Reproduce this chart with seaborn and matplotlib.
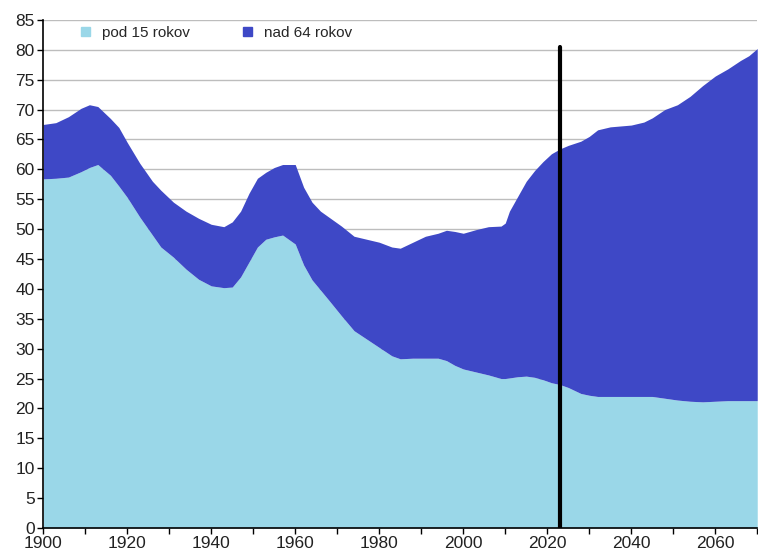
import matplotlib
matplotlib.use("Agg")
import numpy as np
import seaborn as sns
import matplotlib.pyplot as plt
from matplotlib.patches import Patch

# Data
years = [1900, 1903, 1906, 1909, 1911, 1913, 1916, 1918, 1920, 1923, 1926, 1928,
         1931, 1934, 1937, 1940, 1943, 1945, 1947, 1949, 1951, 1953, 1955, 1957,
         1960, 1962, 1964, 1966, 1968, 1971, 1974, 1977, 1980, 1983, 1985, 1988,
         1991, 1994, 1996, 1998, 2000, 2003, 2006, 2009, 2010, 2011, 2013, 2015,
         2017, 2019, 2021, 2023, 2025, 2028, 2030, 2032, 2035, 2040, 2043, 2045,
         2048, 2051, 2054, 2057, 2060, 2063, 2066, 2068, 2070]

pod_15 = [58.4, 58.5, 58.7, 59.6, 60.3, 60.8, 59.0, 57.2, 55.3, 52.0, 49.0, 47.0,
          45.3, 43.3, 41.6, 40.5, 40.2, 40.3, 42.0, 44.5, 47.0, 48.3, 48.7, 49.0,
          47.5, 44.0, 41.5, 39.8, 38.1, 35.5, 33.0, 31.6, 30.2, 28.8, 28.3, 28.4,
          28.4, 28.4, 28.0, 27.2, 26.6, 26.1, 25.6, 25.0, 25.0, 25.1, 25.3, 25.4,
          25.2, 24.8, 24.3, 24.0, 23.5, 22.5, 22.2, 22.0, 22.0, 22.0, 22.0, 22.0,
          21.7, 21.4, 21.2, 21.1, 21.2, 21.3, 21.3, 21.3, 21.3]

# total dependency ratio (top edge of the stack)
total = [67.5, 67.8, 68.8, 70.2, 70.8, 70.5, 68.5, 67.0, 64.5, 61.0, 58.0, 56.5,
         54.5, 53.0, 51.8, 50.8, 50.4, 51.2, 53.0, 56.0, 58.5, 59.5, 60.3, 60.8,
         60.8, 57.0, 54.5, 53.0, 52.0, 50.5, 48.8, 48.3, 47.8, 47.0, 46.8, 47.8,
         48.8, 49.3, 49.8, 49.6, 49.3, 49.9, 50.4, 50.5, 51.0, 53.0, 55.5, 58.0,
         59.8, 61.3, 62.6, 63.4, 64.0, 64.7, 65.5, 66.6, 67.1, 67.4, 67.9, 68.6,
         70.0, 70.8, 72.2, 74.0, 75.6, 76.8, 78.2, 79.0, 80.2]

nad_64 = list(np.array(total) - np.array(pod_15))

labels = ["pod 15 rokov", "nad 64 rokov"]
colors = ["#9AD7E8", "#3E48C6"]

forecast_year = 2023
forecast_top = 80.5

sns.set_theme(style="white")
plt.rcParams["font.family"] = ["Liberation Sans", "DejaVu Sans"]

fig = plt.figure(figsize=(7.58, 5.59), dpi=100)
ax = fig.add_axes([0.057, 0.0555, 0.942, 0.909])

ax.stackplot(years, pod_15, nad_64, colors=colors, linewidth=0, zorder=2)

# forecast divider
ax.plot([forecast_year, forecast_year], [0, forecast_top], color="black", lw=3, zorder=3)

ax.set_xlim(1900, 2070)
ax.set_ylim(0, 85)
ax.set_yticks(range(0, 90, 5))
ax.set_xticks(range(1900, 2071, 20))
ax.set_xticks(range(1910, 2071, 20), minor=True)

ax.yaxis.grid(True, color="#bdbdbd", lw=1, zorder=0)
ax.set_axisbelow(True)

for s in ["top", "right"]:
    ax.spines[s].set_visible(False)
for s in ["left", "bottom"]:
    ax.spines[s].set_color("black")
    ax.spines[s].set_linewidth(1.2)

ax.tick_params(axis="both", which="both", direction="out", length=4, width=1,
               color="black", labelsize=12.5, labelcolor="#222222", pad=2,
               bottom=True, left=True)

handles = [Patch(color=c) for c in colors]
ax.legend(handles, labels, loc="center left", bbox_to_anchor=(0.045, 0.974),
          ncol=2, frameon=False, fontsize=11, handlelength=0.55, handleheight=0.55,
          columnspacing=3.5, handletextpad=0.8, borderaxespad=0)

fig.savefig("out.png", dpi=100)
